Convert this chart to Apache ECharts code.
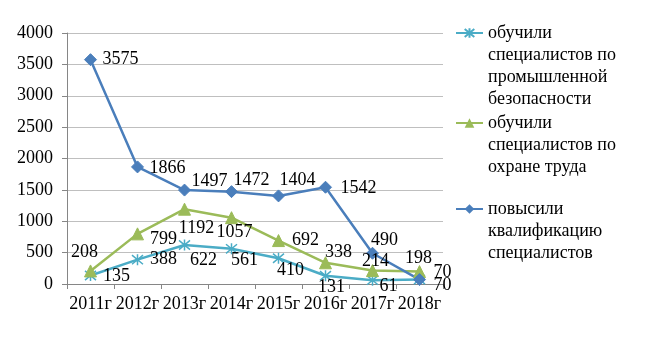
<!DOCTYPE html>
<html>
<head>
<meta charset="utf-8">
<script src="https://cdn.jsdelivr.net/npm/echarts@6/dist/echarts.min.js"></script>
<style>html,body{margin:0;padding:0;background:#fff}#c{width:647px;height:343px}</style>
</head>
<body>
<div id="c"></div>
<script>
var categories = ['2011г','2012г','2013г','2014г','2015г','2016г','2017г','2018г'];
var seriesNames = [
  'обучили\nспециалистов по\nпромышленной\nбезопасности',
  'обучили\nспециалистов по\nохране труда',
  'повысили\nквалификацию\nспециалистов'
];
var industrialSafety = [135, 388, 622, 561, 410, 131, 61, 70];
var laborProtection = [208, 799, 1192, 1057, 692, 338, 214, 198];
var qualification = [3575, 1866, 1497, 1472, 1404, 1542, 490, 70];
var yTicks = [0, 500, 1000, 1500, 2000, 2500, 3000, 3500, 4000];

// label offsets (style only)
var offIndustrial = [[26,1],[26,0],[19,15],[13,11],[12,12],[6,11],[16,6],[23,6]];
var offLabor = [[-6,-19],[26,5],[12,19],[3,15],[27,0],[13,-11],[3,-9],[-1,-13]];
var offQual = [[30,0],[30,1],[25,-9],[20,-11],[19,-16],[33,1],[12,-13],[23,-7]];

var FONT = 'Liberation Serif';
var C_CYAN = '#4BACC6', C_GREEN = '#9BBB59', C_BLUE = '#4A7EBB';

function mk(values, offs) {
  return values.map(function (v, i) {
    return { value: v, label: { offset: offs[i] } };
  });
}
var labelBase = { show: true, position: 'inside', align: 'center', verticalAlign: 'middle',
  color: '#000', fontFamily: FONT, fontSize: 18 };

var star = 'path://M0,0L10,10M10,0L0,10M5,-1L5,11';

var chart = echarts.init(document.getElementById('c'), null, { renderer: 'canvas' });
var legendText = { fontFamily: FONT, fontSize: 18, color: '#000', lineHeight: 22 };
// prepend empty lines so the first text line sits level with the legend icon
var topAlign = function (name) {
  var n = name.split('\n').length;
  return new Array(n).join('\n') + name;
};
function lg(i, top) {
  return { data: [seriesNames[i]], orient: 'vertical', left: 455, top: top, padding: 0,
    itemWidth: 27, itemHeight: 12, textStyle: legendText, formatter: topAlign };
}
chart.setOption({
  animation: false,
  backgroundColor: '#fff',
  grid: { left: 67, top: 33, right: 204, bottom: 59 },
  legend: [lg(0, -44), lg(1, 68), lg(2, 154)],
  xAxis: {
    type: 'category', data: categories, boundaryGap: true,
    axisLine: { lineStyle: { color: '#868686', width: 1 } },
    axisTick: { show: true, length: 5, lineStyle: { color: '#868686' } },
    axisLabel: { fontFamily: FONT, fontSize: 18, color: '#000', margin: 11, interval: 0 },
    splitLine: { show: false }
  },
  yAxis: {
    type: 'value', min: yTicks[0], max: yTicks[yTicks.length - 1], interval: yTicks[1] - yTicks[0],
    axisLine: { show: true, lineStyle: { color: '#868686', width: 1 } },
    axisTick: { show: true, length: 5, lineStyle: { color: '#868686' } },
    axisLabel: { fontFamily: FONT, fontSize: 18, color: '#000', margin: 14,
      formatter: function (v) { return String(v); } },
    splitLine: { lineStyle: { color: '#BFBFBF', width: 1 } }
  },
  series: [
    { name: seriesNames[0], type: 'line', data: mk(industrialSafety, offIndustrial),
      symbol: star, symbolSize: 11,
      itemStyle: { color: 'none', borderColor: C_CYAN, borderWidth: 1.5 },
      lineStyle: { color: C_CYAN, width: 2.5 }, label: labelBase },
    { name: seriesNames[1], type: 'line', data: mk(laborProtection, offLabor),
      symbol: 'triangle', symbolSize: 12,
      itemStyle: { color: C_GREEN, borderColor: C_GREEN },
      lineStyle: { color: C_GREEN, width: 2.5 }, label: labelBase },
    { name: seriesNames[2], type: 'line', data: mk(qualification, offQual),
      symbol: 'diamond', symbolSize: 12,
      itemStyle: { color: C_BLUE, borderColor: C_BLUE },
      lineStyle: { color: C_BLUE, width: 2.5 }, label: labelBase }
  ]
});
</script>
</body>
</html>
